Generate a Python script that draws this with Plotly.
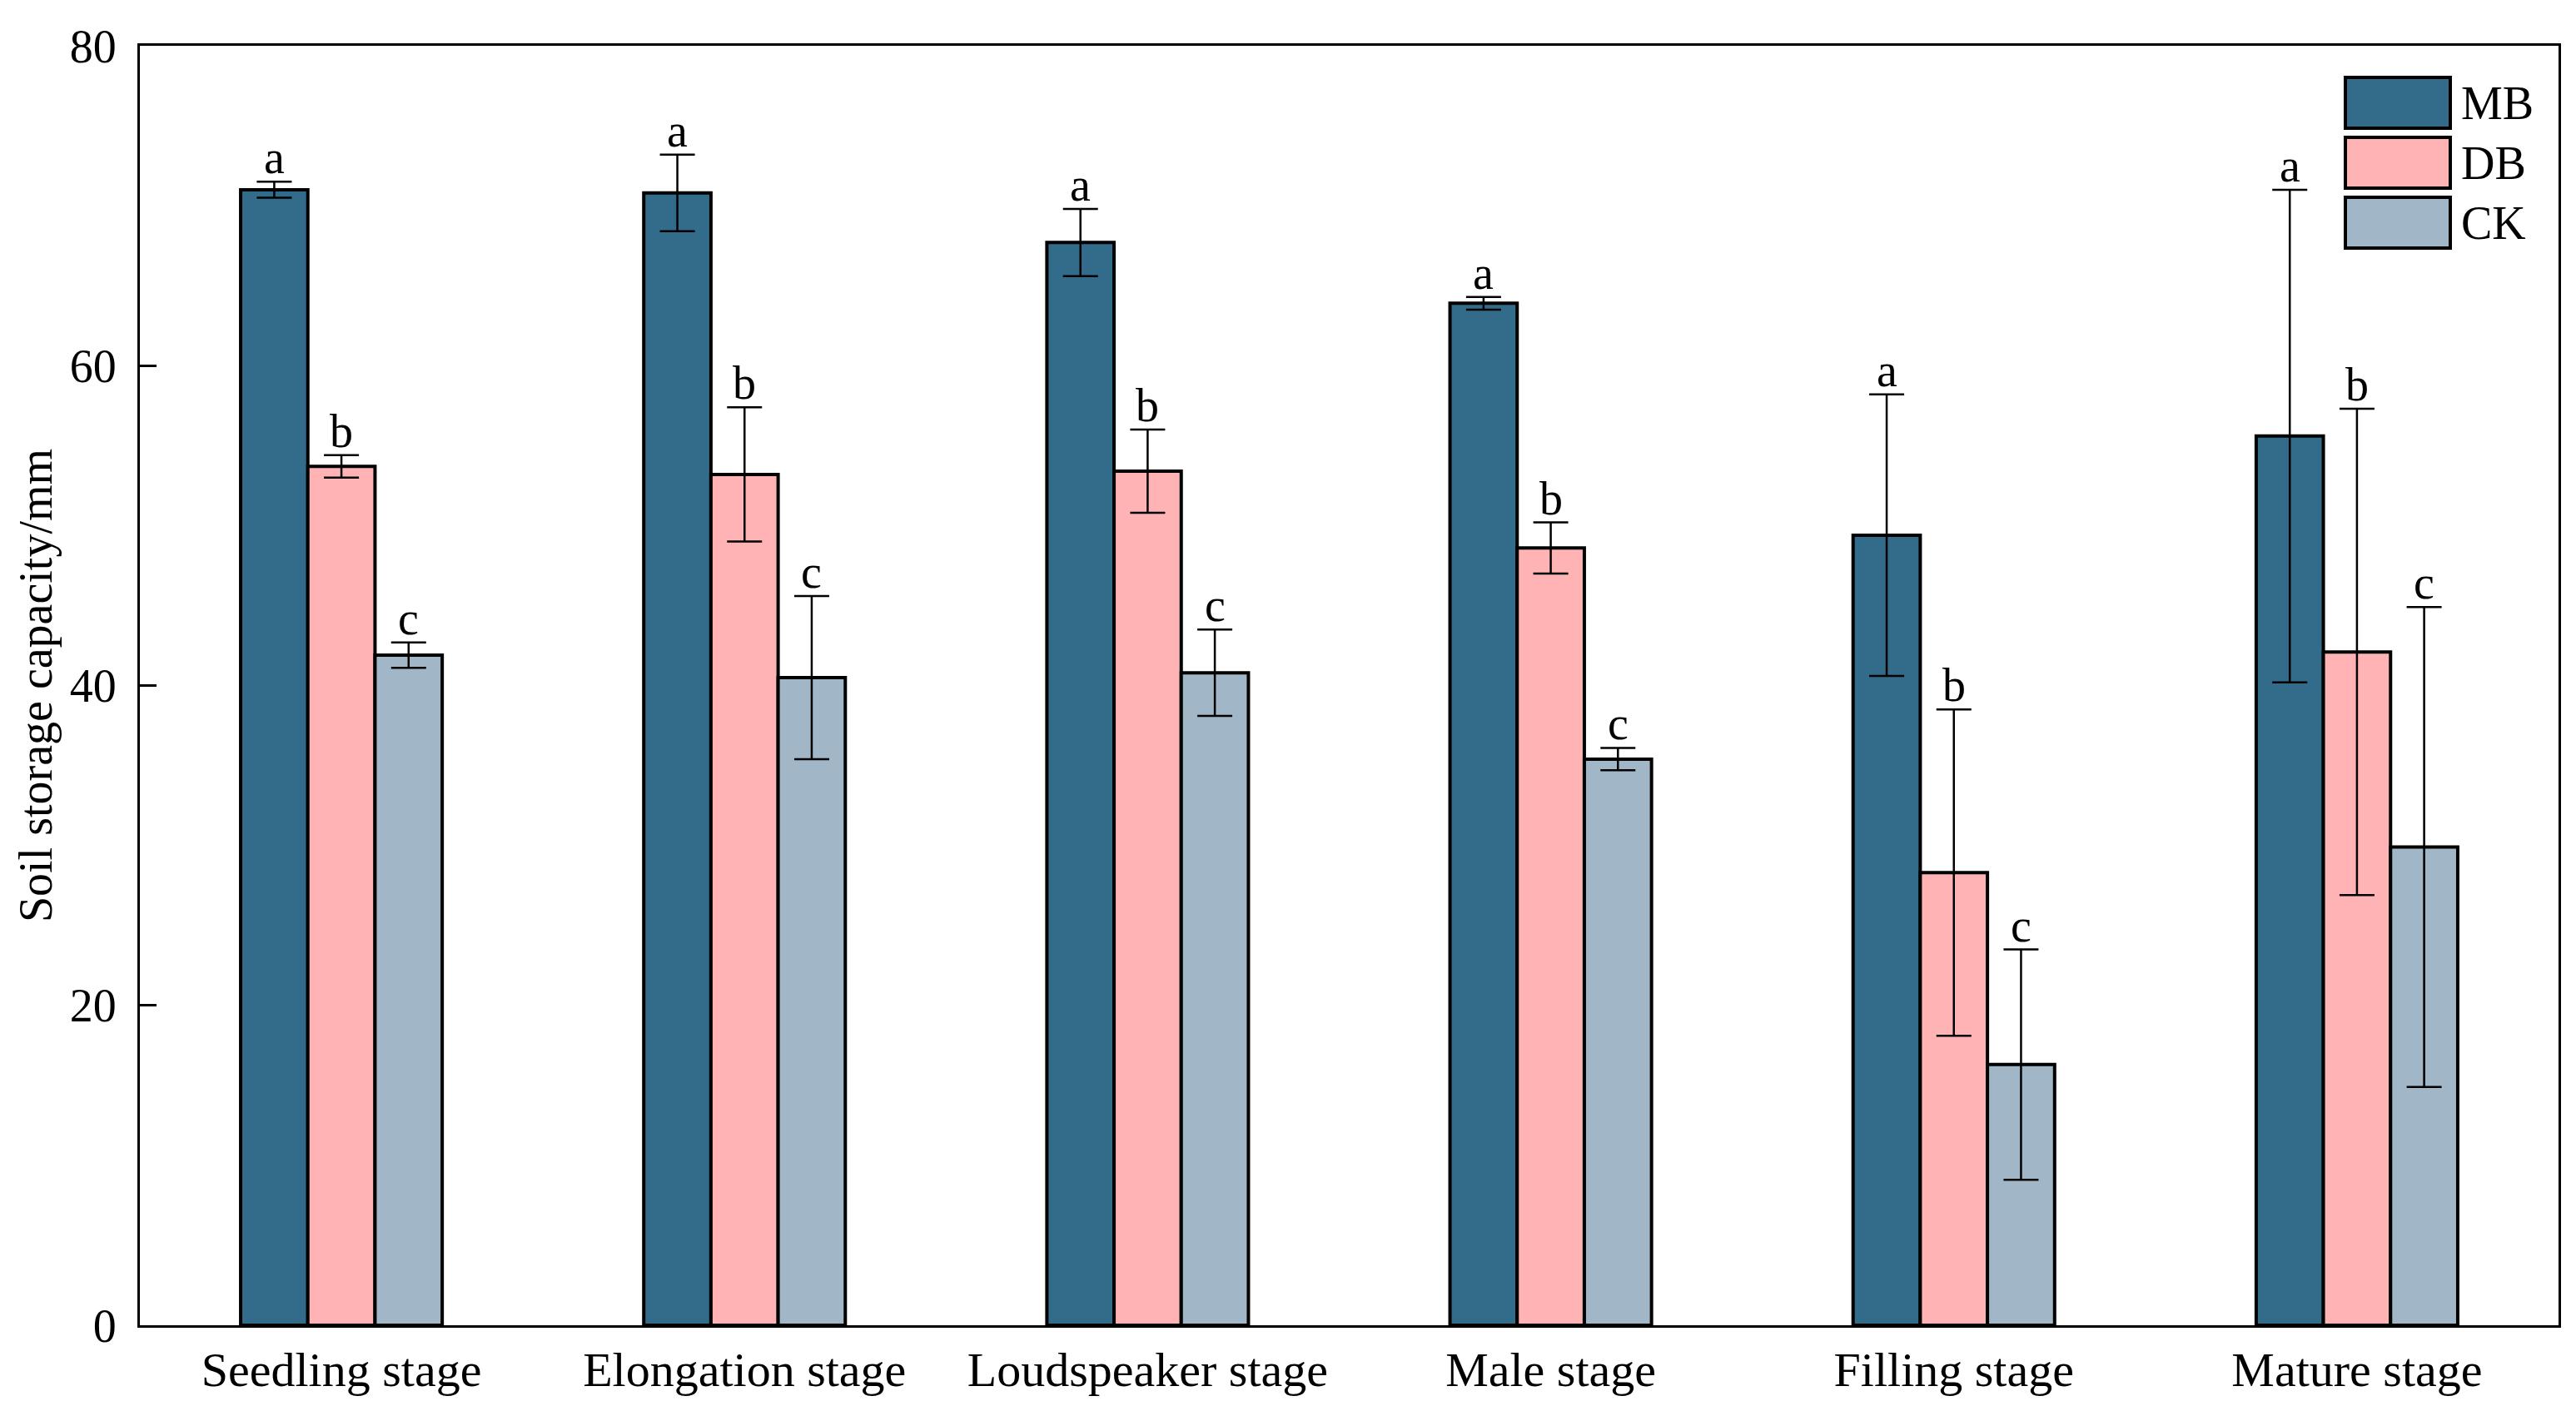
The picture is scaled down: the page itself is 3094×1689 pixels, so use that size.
import plotly.graph_objects as go

stages = ["Seedling stage", "Elongation stage", "Loudspeaker stage",
          "Male stage", "Filling stage", "Mature stage"]
series_names = ["MB", "DB", "CK"]
mb_vals = [71.0, 70.8, 67.7, 63.9, 49.4, 55.6]
mb_errs = [0.5, 2.4, 2.1, 0.4, 8.8, 15.4]
db_vals = [53.7, 53.2, 53.4, 48.6, 28.3, 42.1]
db_errs = [0.7, 4.2, 2.6, 1.6, 10.2, 15.2]
ck_vals = [41.9, 40.5, 40.8, 35.4, 16.3, 29.9]
ck_errs = [0.8, 5.1, 2.7, 0.7, 7.2, 15.0]
letters = ["a", "b", "c"]
colors = ["#336B8A", "#FFB3B5", "#A1B7C7"]
y_ticks = [0, 20, 40, 60, 80]

FONT = "Liberation Serif"
FS = 56

vals = [mb_vals, db_vals, ck_vals]
errs = [mb_errs, db_errs, ck_errs]
xpos = list(range(len(stages)))

# page body has an 8px margin; compensate so the plot area lands where wanted
OFF = 8
W, H = 3094, 1689
PL, PR, PT, PB = 168 - OFF, 3073 - OFF, 55 - OFF, 1592 - OFF

fig = go.Figure()
for k in range(3):
    fig.add_trace(go.Bar(
        x=xpos, y=vals[k], name=series_names[k],
        marker=dict(color=colors[k], line=dict(color="black", width=4)),
        error_y=dict(type="data", array=errs[k], color="black",
                     thickness=2.5, width=21),
        showlegend=False,
    ))

annotations = []
bw = 0.5 / 3
for k in range(3):
    for i in xpos:
        annotations.append(dict(
            x=i + (k - 1) * bw, y=vals[k][i] + errs[k][i],
            xref="x", yref="y", text=letters[k], showarrow=False,
            yanchor="bottom", xanchor="center", yshift=-4,
            font=dict(family=FONT, size=FS, color="black")))

# legend drawn manually with large swatches
def px_x(x):
    return (x - OFF - PL) / (PR - PL)

def px_y(y):
    return (PB - (y - OFF)) / (PB - PT)

shapes = []
leg_x0, leg_x1 = 2817, 2943
leg_tops = [93, 165, 237]
for k in range(3):
    y0 = leg_tops[k]
    shapes.append(dict(type="rect", xref="paper", yref="paper",
                       x0=px_x(leg_x0), x1=px_x(leg_x1),
                       y0=px_y(y0), y1=px_y(y0 + 61),
                       fillcolor=colors[k], line=dict(color="black", width=4)))
    annotations.append(dict(
        x=px_x(2954), y=px_y(y0 + 30.5),
        xref="paper", yref="paper", text=series_names[k], showarrow=False,
        xanchor="left", yanchor="middle",
        font=dict(family=FONT, size=FS, color="black")))

fig.update_layout(
    width=W, height=H,
    margin=dict(l=PL, r=W - PR, t=PT, b=H - PB, autoexpand=False),
    paper_bgcolor="white", plot_bgcolor="white",
    barmode="group", bargap=0.5, bargroupgap=0,
    font=dict(family=FONT, size=FS, color="black"),
    annotations=annotations, shapes=shapes,
    xaxis=dict(range=[-0.5, 5.5], tickvals=xpos, ticktext=stages,
               showgrid=False, zeroline=False, ticks="",
               showline=True, linecolor="black", linewidth=3, mirror=True,
               tickfont=dict(family=FONT, size=58, color="black"),
               ticklabelstandoff=0),
    yaxis=dict(range=[0, 80], tickvals=y_ticks, showgrid=False, zeroline=False,
               ticks="inside", ticklen=20, tickwidth=3, tickcolor="black",
               showline=True, linecolor="black", linewidth=3, mirror=True,
               tickfont=dict(family=FONT, size=FS, color="black"),
               ticklabelstandoff=14,
               title=dict(text="Soil storage capacity/mm", standoff=4,
                          font=dict(family=FONT, size=FS, color="black"))),
)

fig.write_html("out.html")
